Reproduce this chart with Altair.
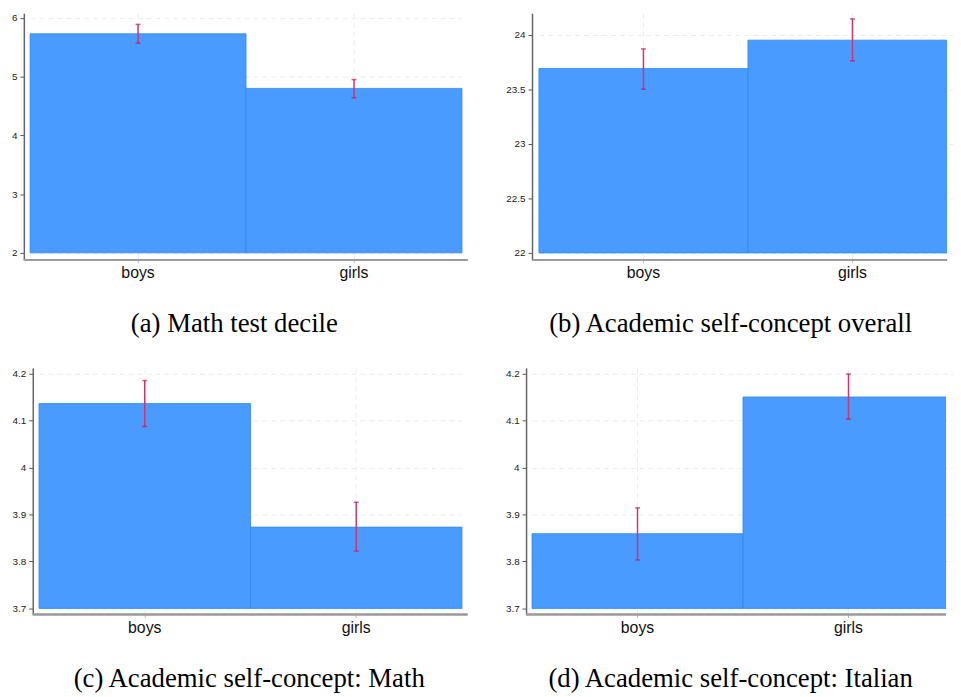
import altair as alt
import pandas as pd

groups = ["boys", "girls"]

# (a) Math test decile
a_mean = [5.73, 4.80]
a_lo = [5.57, 4.64]
a_hi = [5.89, 4.95]
# (b) Academic self-concept overall
b_mean = [23.69, 23.95]
b_lo = [23.50, 23.76]
b_hi = [23.87, 24.145]
# (c) Academic self-concept: Math
c_mean = [4.136, 3.873]
c_lo = [4.087, 3.822]
c_hi = [4.185, 3.926]
# (d) Academic self-concept: Italian
d_mean = [3.859, 4.150]
d_lo = [3.803, 4.103]
d_hi = [3.914, 4.199]

bar_base = [2, 22, 3.7, 3.7]
y_ticks_a = [2, 3, 4, 5, 6]
y_ticks_b = [22, 22.5, 23, 23.5, 24]
y_ticks_cd = [3.7, 3.8, 3.9, 4.0, 4.1, 4.2]

captions = [
    "(a) Math test decile",
    "(b) Academic self-concept overall",
    "(c) Academic self-concept: Math",
    "(d) Academic self-concept: Italian",
]

BAR = "#4a9bff"
ERR = "#d6336c"
H = 249


def panel(mean, lo, hi, base, ydom, yticks, width, xrange, caption, cap_dx, yoff):
    df = pd.DataFrame({"group": groups, "mean": mean, "lo": lo, "hi": hi,
                       "base": [base] * len(groups)})
    x = alt.X("group:N", sort=groups,
              scale=alt.Scale(domain=groups, range=xrange, paddingInner=0, paddingOuter=0),
              axis=alt.Axis(title=None, labelAngle=0, labelFontSize=16, labelFont="Liberation Sans",
                            labelColor="#111", labelPadding=2, tickSize=3, tickColor="#bbb",
                            domain=False, grid=True, gridDash=[5, 4],
                            gridColor="#ececec", gridWidth=1, bandPosition=0.5))
    yscale = alt.Scale(domain=ydom, nice=False, zero=False)
    yaxis = alt.Axis(title=None, values=yticks, format="~g", labelFontSize=10,
                     labelFont="Liberation Sans", labelColor="#222", labelPadding=3,
                     tickSize=4, tickColor="#555", domainColor="#666", domainWidth=1.5,
                     grid=True, gridDash=[5, 4], gridColor="#ececec", gridWidth=1,
                     offset=yoff)
    bars = alt.Chart(df).mark_bar(color=BAR, stroke="#2f86f5", strokeWidth=0.8,
                                  clip=(xrange[1] > width)).encode(
        x=x, y=alt.Y("mean:Q", scale=yscale, axis=yaxis), y2="base:Q")
    xline = alt.Chart(df).mark_rule(color="#999", strokeWidth=2).encode(
        x=alt.value(-yoff), x2=alt.value(width), y=alt.value(H))
    rule = alt.Chart(df).mark_rule(color=ERR, strokeWidth=1.5).encode(
        x=alt.X("group:N", sort=groups), y=alt.Y("lo:Q"), y2="hi:Q")
    cap_lo = alt.Chart(df).mark_tick(color="#c2185b", size=5, thickness=1.5).encode(
        x=alt.X("group:N", sort=groups), y=alt.Y("lo:Q"))
    cap_hi = alt.Chart(df).mark_tick(color="#c2185b", size=5, thickness=1.5).encode(
        x=alt.X("group:N", sort=groups), y=alt.Y("hi:Q"))
    return alt.layer(bars, xline, rule, cap_lo, cap_hi).properties(
        width=width, height=H,
        title=alt.TitleParams(text=caption, orient="bottom", anchor="middle", frame="group",
                              font="Liberation Serif", fontSize=27, fontWeight="normal",
                              color="#000", offset=52, dx=cap_dx, baseline="alphabetic"))


pa = panel(a_mean, a_lo, a_hi, bar_base[0], [1.88, 6.08], y_ticks_a, 439, [-2.7, 433.3],
           captions[0], -16, 9)
pb = panel(b_mean, b_lo, b_hi, bar_base[1], [21.936, 24.197], y_ticks_b, 419, [7, 429],
           captions[1], -9, 0)
pc = panel(c_mean, c_lo, c_hi, bar_base[2], [3.687, 4.212], y_ticks_cd, 439, [6.3, 433.3],
           captions[2], -1, 0)
pd_ = panel(d_mean, d_lo, d_hi, bar_base[3], [3.687, 4.212], y_ticks_cd, 419, [1, 427],
            captions[3], -8, 5)

chart = alt.concat(pa, pb, pc, pd_, columns=2, align="none", bounds="full",
                   spacing={"row": 31, "column": 37}).properties(
    padding={"left": 3, "top": 1, "right": 0, "bottom": 0}, background="white"
).configure_view(stroke=None)

chart.save("out.html", embed_options={"renderer": "svg", "actions": False})
